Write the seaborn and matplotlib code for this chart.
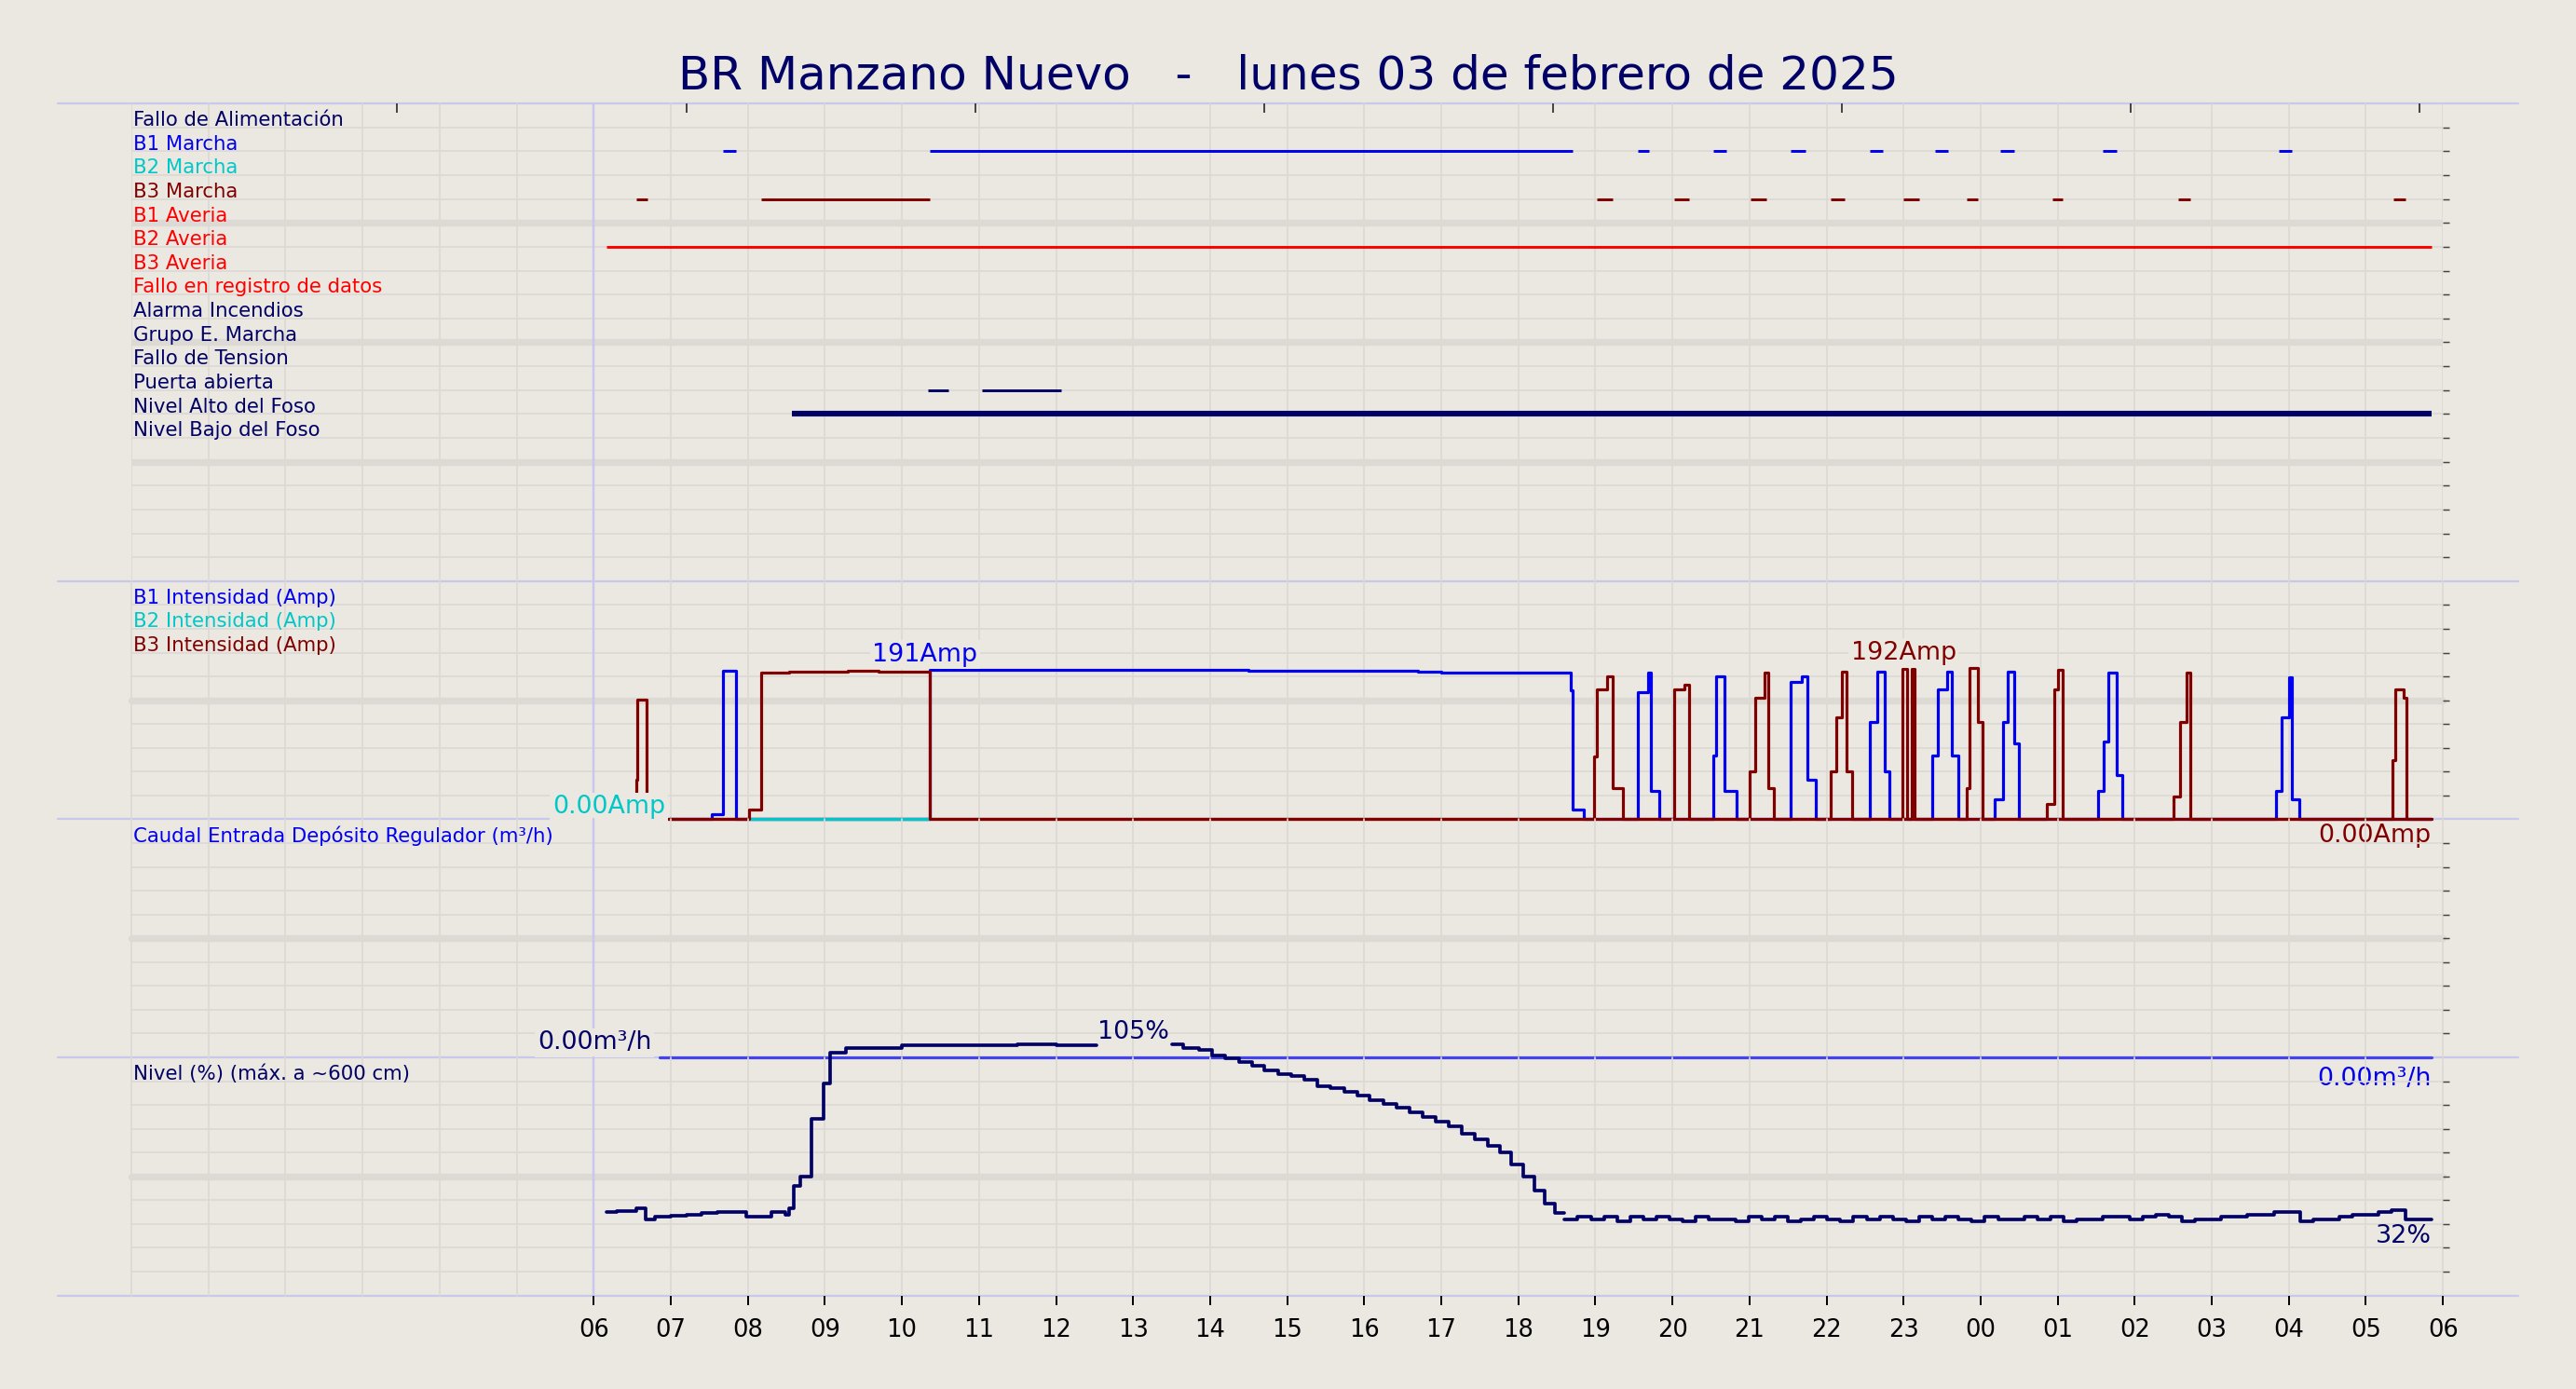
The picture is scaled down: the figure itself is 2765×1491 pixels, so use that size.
import numpy as np
import matplotlib
matplotlib.use("Agg")
import matplotlib.pyplot as plt
import seaborn as sns
from matplotlib.lines import Line2D

sns.set_theme(style="white")
plt.rcParams['font.family'] = ['DejaVu Sans']

BG = "#ebe7e1"
NAVY = "#000066"
BLUE = "#0000ee"
CYAN = "#00c8c8"
BROWN = "#800000"
RED = "#ff0000"
GRID = "#dcd8d3"
LAV = "#c8c8ee"

title = "BR Manzano Nuevo   -   lunes 03 de febrero de 2025"

signal_labels = ["Fallo de Alimentación", "B1 Marcha", "B2 Marcha", "B3 Marcha", "B1 Averia",
                 "B2 Averia", "B3 Averia", "Fallo en registro de datos", "Alarma Incendios",
                 "Grupo E. Marcha", "Fallo de Tension", "Puerta abierta", "Nivel Alto del Foso",
                 "Nivel Bajo del Foso"]
signal_colors = [NAVY, BLUE, CYAN, BROWN, RED, RED, RED, RED, NAVY, NAVY, NAVY, NAVY, NAVY, NAVY]

b1_marcha = [(7.68, 7.85), (10.36, 18.7), (19.55, 19.7), (20.53, 20.7), (21.53, 21.73), (22.56, 22.73),
             (23.41, 23.58), (24.26, 24.43), (25.59, 25.76), (27.87, 28.04)]
b3_marcha = [(6.55, 6.7), (8.17, 10.36), (19.02, 19.23), (20.02, 20.21), (21.02, 21.22), (22.05, 22.24),
             (23.0, 23.2), (23.82, 23.97), (24.93, 25.07), (26.57, 26.72), (29.36, 29.51)]
b2_averia = [(6.16, 29.85)]
puerta = [(10.34, 10.6), (11.04, 12.07)]
nivel_alto = [(8.57, 29.85)]

b1_t = [6.97, 7.53, 7.68, 7.85, 10.36, 14.5, 16.7, 17.0, 18.68, 18.7, 18.85,
        19.55, 19.68, 19.72, 19.83, 20.53, 20.57, 20.68, 20.83, 21.53, 21.68, 21.75, 21.86,
        22.56, 22.66, 22.75, 22.82, 23.37, 23.45, 23.56, 23.62, 23.71, 24.18, 24.29, 24.35, 24.43, 24.5,
        25.52, 25.6, 25.66, 25.76, 25.84, 27.83, 27.91, 28.0, 28.04, 28.14, 29.85]
b1_v = [0, 7, 190, 0, 191, 190, 189, 188, 165, 12, 0,
        162, 187, 36, 0, 82, 183, 36, 0, 176, 183, 50, 0,
        124, 189, 61, 0, 82, 166, 189, 82, 0, 25, 124, 189, 97, 0,
        36, 99, 187, 57, 0, 36, 130, 181, 25, 0, 0]
b3_t = [6.52, 6.55, 6.57, 6.68, 8.02, 8.17, 8.53, 9.3, 9.7, 10.36,
        18.98, 19.02, 19.15, 19.23, 19.36, 20.02, 20.15, 20.21, 21.0, 21.07, 21.19, 21.24, 21.32,
        22.05, 22.13, 22.2, 22.26, 22.33, 22.98, 23.04, 23.1, 23.14, 23.2, 23.82, 23.86, 23.97, 24.03,
        24.86, 24.95, 25.01, 25.07, 26.5, 26.59, 26.67, 26.72, 29.34, 29.38, 29.49, 29.53, 29.85]
b3_v = [29, 50, 153, 0, 12, 187, 189, 190, 189, 0,
        80, 166, 183, 40, 0, 166, 172, 0, 61, 155, 187, 40, 0,
        61, 130, 189, 61, 0, 192, 0, 192, 0, 0, 40, 193, 124, 0,
        19, 166, 191, 0, 29, 124, 187, 0, 76, 166, 155, 0, 0]
b2_t = [8.02, 10.36]
b2_v = [0, 0]

caudal_t = [6.85, 29.85]
caudal_v = [0, 0]

nivel_t = [6.16, 6.3, 6.55, 6.67, 6.8, 7.0, 7.2, 7.4, 7.6, 7.98, 8.3, 8.49, 8.53, 8.6, 8.68, 8.83, 8.98,
           9.07, 9.27, 10.0, 10.5, 11.0, 11.5, 12.0, 12.52]
nivel_v = [35, 35.5, 36.5, 32, 33, 33.5, 34, 34.5, 35, 33, 35, 34, 36.5, 46, 50, 74, 89, 102,
           104, 105, 105, 105, 105.5, 105, 105]
nivel2_t = [13.5, 13.65, 13.85, 14.03, 14.2, 14.37, 14.54, 14.7, 14.88, 15.05, 15.22, 15.39, 15.56, 15.74,
            15.91, 16.07, 16.25, 16.42, 16.59, 16.76, 16.93, 17.1, 17.27, 17.44, 17.61, 17.76, 17.91, 18.06,
            18.21, 18.34, 18.47]
nivel2_v = [105.5, 104, 103, 100.7, 99.5, 98, 96.5, 94.5, 93, 92, 90.5, 88, 87, 85.5, 84, 82, 80.5,
            79, 77, 75, 73, 71, 68, 65.5, 63, 60, 55, 50, 44, 38.6, 34.5]
nivel3_v = [32, 33, 32, 33, 31, 33, 32, 33, 32, 31, 33, 32, 32, 31, 33, 32, 33, 31, 32, 33, 32, 31,
            33, 32, 33, 32, 31, 33, 32, 33, 32, 31, 33, 32, 32, 33, 32, 33, 31, 32, 32, 33, 33, 32,
            33, 34, 33, 31, 32, 32, 33, 33, 34, 34, 35, 35, 31, 32, 32, 33, 34, 34, 35, 36, 32, 32, 32]
nivel3_t = np.linspace(18.6, 29.85, len(nivel3_v))

hours = list(range(6, 31))
hour_labels = [f"{h % 24:02d}" for h in hours]

W, H = 2765, 1491
fig = plt.figure(figsize=(W / 176.3, H / 176.3), dpi=176.3, facecolor=BG)

L, R = 80 / 1568, 1487 / 1568
bounds = [63, 354, 499, 644, 789]
def fy(p): return 1 - p / 846
axes = []
for i in range(4):
    ax = fig.add_axes([L, fy(bounds[i + 1]), R - L, fy(bounds[i]) - fy(bounds[i + 1])])
    ax.set_facecolor("none")
    ax.set_xlim(0, 30)
    for s in ax.spines.values():
        s.set_visible(False)
    for h in range(0, 31):
        ax.axvline(h, color=GRID, lw=0.7, zorder=0)
    ax.axvline(6, color=LAV, lw=1.0, zorder=0.5)
    ax.yaxis.tick_right()
    ax.tick_params(axis='y', right=True, length=3, width=0.6, colors="#444444", labelright=False, direction='out')
    axes.append(ax)

for b in bounds:
    fig.add_artist(Line2D([35 / 1568, 1533 / 1568], [fy(b), fy(b)], color=LAV, lw=0.9, zorder=0))

fig.text(0.5, fy(46), title, ha='center', va='center', fontsize=20.5, color=NAVY)

LFS = 8.7
ax1 = axes[0]
ax1.set_ylim(20, 0)
ax1.set_yticks(range(1, 20))
for r in range(1, 20):
    ax1.axhline(r, color=GRID if r % 5 else "#ddd9d5", lw=0.7 if r % 5 else 3, zorder=0)
for i, (lab, c) in enumerate(zip(signal_labels, signal_colors)):
    ax1.text(0.02, i + 0.7, lab, color=c, fontsize=LFS, va='center', ha='left')
def segs(ax, iv, row, color, lw=1.2):
    for a, b in iv:
        ax.hlines(row + 1.0, a, b, color=color, lw=lw, zorder=3)
segs(ax1, b1_marcha, 1, BLUE)
segs(ax1, b3_marcha, 3, BROWN)
segs(ax1, b2_averia, 5, RED)
segs(ax1, puerta, 11, NAVY)
segs(ax1, nivel_alto, 12, NAVY, lw=2.5)
ax1.set_xticks([3.45, 7.2, 10.95, 14.7, 18.45, 22.2, 25.95, 29.7])
ax1.tick_params(axis='x', top=True, bottom=False, labelbottom=False, direction='in', length=4, width=0.8, colors="#444444")

ax2 = axes[1]
ymax2 = 145 / 91 * 191
ax2.set_ylim(0, ymax2)
ax2.set_yticks([ymax2 * k / 10 for k in range(1, 10)])
for k in range(1, 10):
    ax2.axhline(ymax2 * k / 10, color=GRID if k != 5 else "#ddd9d5", lw=0.7 if k != 5 else 3, zorder=0)
sns.lineplot(x=b1_t, y=b1_v, ax=ax2, color=BLUE, lw=1.3, drawstyle='steps-post', zorder=3, estimator=None)
ax2.hlines(0, 6.97, 29.85, color=BROWN, lw=1.3, zorder=4)
sns.lineplot(x=b2_t, y=b2_v, ax=ax2, color=CYAN, lw=1.3, drawstyle='steps-post', zorder=4.5, estimator=None)
sns.lineplot(x=b3_t, y=b3_v, ax=ax2, color=BROWN, lw=1.3, drawstyle='steps-post', zorder=5, estimator=None)
for art in ax2.lines + ax2.collections:
    art.set_clip_on(False)
for i, (lab, c) in enumerate(zip(["B1 Intensidad (Amp)", "B2 Intensidad (Amp)", "B3 Intensidad (Amp)"], [BLUE, CYAN, BROWN])):
    ax2.text(0.02, ymax2 * (1 - (i + 0.7) / 10), lab, color=c, fontsize=LFS, va='center')
bb = dict(boxstyle='square,pad=0.1', fc=BG, ec='none')
ax2.text(10.3, 191 + 4, "191Amp", color=BLUE, fontsize=11, ha='center', va='bottom', bbox=bb, zorder=6)
ax2.text(23.0, 193 + 4, "192Amp", color=BROWN, fontsize=11, ha='center', va='bottom', bbox=bb, zorder=6)
ax2.text(6.93, 0, "0.00Amp", color=CYAN, fontsize=11, ha='right', va='bottom', bbox=bb, zorder=6)
ax2.text(29.85, -5, "0.00Amp", color=BROWN, fontsize=11, ha='right', va='top', zorder=6, clip_on=False)

ax3 = axes[2]
ax3.set_ylim(0, 10)
ax3.set_yticks(range(1, 10))
for k in range(1, 10):
    ax3.axhline(k, color=GRID if k != 5 else "#ddd9d5", lw=0.7 if k != 5 else 3, zorder=0)
sns.lineplot(x=caudal_t, y=caudal_v, ax=ax3, color="#4444ee", lw=1.3, zorder=3, estimator=None)
for art in ax3.lines:
    art.set_clip_on(False)
ax3.text(0.02, 9.3, "Caudal Entrada Depósito Regulador (m³/h)", color=BLUE, fontsize=LFS, va='center')
ax3.text(6.75, 0.1, "0.00m³/h", color=NAVY, fontsize=11, ha='right', va='bottom', bbox=bb, zorder=6)
ax3.text(29.85, -0.4, "0.00m³/h", color=BLUE, fontsize=11, ha='right', va='top', zorder=6, clip_on=False)

ax4 = axes[3]
ax4.set_ylim(0, 100)
ax4.set_yticks(range(10, 100, 10))
for k in range(10, 100, 10):
    ax4.axhline(k, color=GRID if k != 50 else "#ddd9d5", lw=0.7 if k != 50 else 3, zorder=0)
for tt, vv in [(nivel_t, nivel_v), (nivel2_t + [18.6], nivel2_v + [34.5]), (list(nivel3_t), nivel3_v)]:
    sns.lineplot(x=list(tt), y=vv, ax=ax4, color=NAVY, lw=1.5, drawstyle='steps-post', zorder=3, estimator=None)
for ln in ax4.lines:
    ln.set_clip_on(False)
ax4.text(0.02, 93, "Nivel (%) (máx. a ~600 cm)", color=NAVY, fontsize=LFS, va='center')
ax4.text(13.0, 105.5, "105%", color=NAVY, fontsize=11, ha='center', va='bottom', zorder=6, clip_on=False)
ax4.text(29.85, 30, "32%", color=NAVY, fontsize=11, ha='right', va='top', zorder=6)
ax4.set_xticks(hours)
ax4.set_xticklabels(hour_labels)
ax4.tick_params(axis='x', bottom=True, direction='out', length=4, width=0.8, labelsize=10.5, colors="black", pad=6)
for ax in axes:
    ax.set_xlabel("")
    ax.set_ylabel("")
    if ax is not ax4 and ax is not ax1:
        ax.set_xticks([])

fig.savefig("out.png", dpi=176.3, facecolor=BG)
